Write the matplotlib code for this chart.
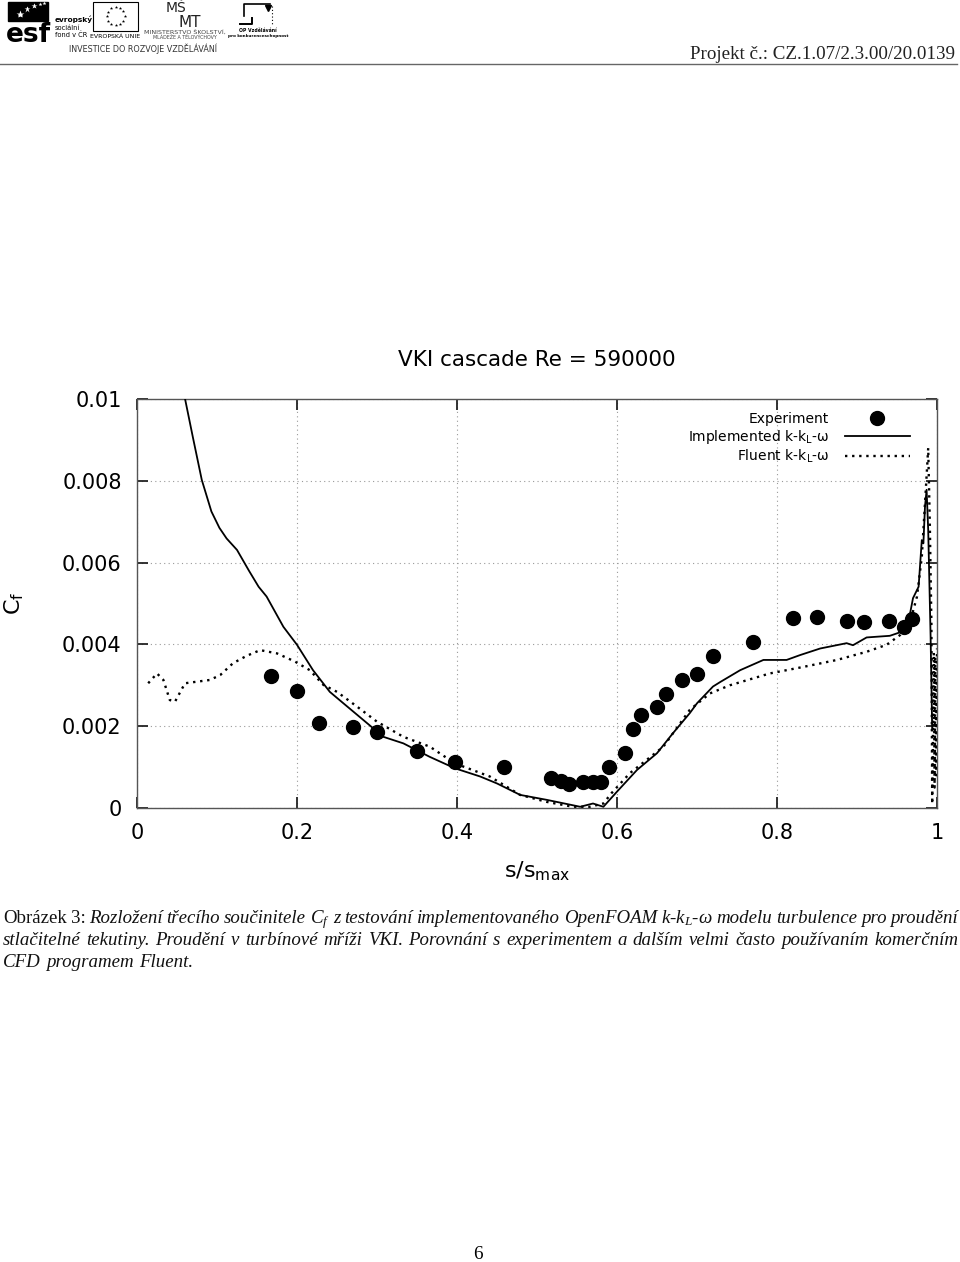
import matplotlib
matplotlib.use('Agg')
import matplotlib.pyplot as plt
import numpy as np
from matplotlib.patches import Rectangle

plt.rcParams['font.family'] = ['DejaVu Sans']
plt.rcParams['mathtext.fontset'] = 'custom'
plt.rcParams['mathtext.rm'] = 'Liberation Serif'
plt.rcParams['mathtext.it'] = 'Liberation Serif:italic'

# ---------------- data ----------------
exp_x = [0.168, 0.200, 0.2275, 0.270, 0.300, 0.350, 0.3975, 0.459, 0.518, 0.530,
         0.540, 0.557, 0.570, 0.580, 0.590, 0.610, 0.620, 0.630, 0.650, 0.661,
         0.681, 0.700, 0.720, 0.770, 0.820, 0.850, 0.8875, 0.909, 0.940, 0.959, 0.969]
exp_y = [0.00323, 0.00287, 0.00209, 0.00197, 0.00186, 0.00139, 0.00112, 0.00101, 0.00074, 0.00067,
         0.00059, 0.00064, 0.00063, 0.00064, 0.00101, 0.00134, 0.00194, 0.00227, 0.00247, 0.00279,
         0.00314, 0.00328, 0.00372, 0.00407, 0.00464, 0.00468, 0.00458, 0.00454, 0.00456, 0.00443, 0.00463]

impl_x = [0.058, 0.070, 0.081, 0.093, 0.103, 0.112, 0.125, 0.140, 0.152, 0.162,
          0.183, 0.200, 0.220, 0.241, 0.258, 0.283, 0.308, 0.333, 0.366, 0.3975,
          0.429, 0.450, 0.479, 0.512, 0.554, 0.570, 0.583, 0.600, 0.625, 0.650,
          0.670, 0.691, 0.700, 0.720, 0.729, 0.754, 0.783, 0.812, 0.829, 0.854,
          0.887, 0.895, 0.912, 0.941, 0.956, 0.964, 0.970, 0.977, 0.981, 0.983,
          0.985, 0.987, 0.989, 0.992, 0.994]
impl_y = [0.01020, 0.00905, 0.00802, 0.00725, 0.00685, 0.00659, 0.00631, 0.00580, 0.00541, 0.00517,
          0.00443, 0.00399, 0.00337, 0.00284, 0.00256, 0.00215, 0.00174, 0.00158, 0.00125, 0.00097,
          0.00077, 0.00060, 0.00032, 0.00020, 0.00003, 0.00011, 0.00003, 0.00040, 0.00093, 0.00134,
          0.00183, 0.00232, 0.00256, 0.00297, 0.00308, 0.00337, 0.00362, 0.00362, 0.00374, 0.00390,
          0.00403, 0.00398, 0.00417, 0.00421, 0.00431, 0.00452, 0.00513, 0.00541, 0.00655, 0.00647,
          0.00737, 0.00778, 0.00680, 0.00419, 0.00190]

fluent_x = [0.014, 0.025, 0.033, 0.041, 0.0475, 0.060, 0.091, 0.104, 0.120, 0.137,
            0.154, 0.175, 0.1975, 0.216, 0.233, 0.250, 0.275, 0.300, 0.333, 0.366,
            0.3975, 0.441, 0.479, 0.512, 0.545, 0.566, 0.583, 0.593, 0.616, 0.658,
            0.691, 0.716, 0.741, 0.791, 0.833, 0.875, 0.912, 0.937, 0.954, 0.966,
            0.975, 0.981, 0.986, 0.989, 0.991, 0.993, 0.994, 0.996, 0.997, 0.998,
            0.999, 1.000]
fluent_y = [0.00305, 0.00329, 0.00313, 0.00264, 0.00260, 0.00305, 0.00313, 0.00325, 0.00354, 0.00372,
            0.00386, 0.00378, 0.00358, 0.00337, 0.00301, 0.00284, 0.00248, 0.00211, 0.00174, 0.00150,
            0.00109, 0.00077, 0.00032, 0.00015, 0.00003, 0.00003, 0.00011, 0.00036, 0.00085, 0.00150,
            0.00240, 0.00280, 0.00300, 0.00329, 0.00345, 0.00362, 0.00382, 0.00399, 0.00423, 0.00452,
            0.00517, 0.00614, 0.00778, 0.00880, 0.00697, 0.00452, 0.00010, 0.00380, 0.00050, 0.00370,
            0.00080, 0.00390]

x_ticks = [0, 0.2, 0.4, 0.6, 0.8, 1.0]
x_tick_labels = ['0', '0.2', '0.4', '0.6', '0.8', '1']
y_ticks = [0, 0.002, 0.004, 0.006, 0.008, 0.010]
y_tick_labels = ['0', '0.002', '0.004', '0.006', '0.008', '0.01']

title = 'VKI cascade Re = 590000'
legend_labels = ['Experiment', r'Implemented k-k$_\mathregular{L}$-ω', r'Fluent k-k$_\mathregular{L}$-ω']

# ---------------- figure ----------------
W, H = 960, 1262
fig = plt.figure(figsize=(W / 100, H / 100), dpi=100)
page = fig.add_axes([0, 0, 1, 1], zorder=0)
page.set_xlim(0, W)
page.set_ylim(H, 0)
page.axis('off')

ax = fig.add_axes([137 / W, 1 - 808 / H, 800 / W, 409 / H], zorder=1)
ax.patch.set_alpha(0)

l_exp, = ax.plot(exp_x, exp_y, 'o', color='black', ms=10, label=legend_labels[0], zorder=4)
l_imp, = ax.plot(impl_x, impl_y, color='black', lw=1.3, label=legend_labels[1], zorder=3)
l_flu, = ax.plot(fluent_x, fluent_y, color='black', lw=1.7, linestyle=(0, (1, 2.0)),
                 label=legend_labels[2], zorder=3)

ax.set_xlim(0, 1)
ax.set_ylim(0, 0.01)
ax.set_xticks(x_ticks)
ax.set_xticklabels(x_tick_labels)
ax.set_yticks(y_ticks)
ax.set_yticklabels(y_tick_labels)
ax.tick_params(direction='in', length=8, width=1.3, top=True, right=True,
               labelsize=15, pad=11, color='#222222')
ax.grid(True, color='#9a9a9a', linestyle=(0, (1, 3)), lw=0.8)
for s in ax.spines.values():
    s.set_color('#555555')
    s.set_linewidth(1.0)

ax.set_title(title, fontsize=15.5, pad=24)
ax.set_ylabel(r'C$_\mathregular{f}$', fontsize=16)
ax.yaxis.set_label_coords(-0.14, 0.50)
ax.set_xlabel(r's/s$_\mathregular{max}$', fontsize=16)
ax.xaxis.set_label_coords(0.5, -0.125)

ax.legend(handles=[l_exp, l_imp, l_flu], markerfirst=False, frameon=False,
          loc='upper right', bbox_to_anchor=(0.966, 0.968), borderaxespad=0,
          borderpad=0, fontsize=10, handlelength=4.7, handletextpad=1.1,
          labelspacing=0.12, numpoints=1)

# ---------------- page header ----------------
# esf logo
page.add_patch(Rectangle((8, 2), 40, 19, color='black'))
for (sx, sy, ss) in [(20, 14, 6), (27, 9, 5), (34, 6, 4), (40, 4, 3), (44, 3, 3)]:
    page.plot(sx, sy, marker='*', color='white', ms=ss, mec='none')
page.text(6, 42, 'esf', fontsize=19, fontweight='bold', family='DejaVu Sans',
          va='baseline', ha='left')
page.text(55, 22, 'evropský', fontsize=5.3, fontweight='bold', va='baseline')
page.text(55, 30, 'sociální', fontsize=4.8, va='baseline')
page.text(55, 37, 'fond v ČR', fontsize=4.8, va='baseline')
# EU flag
page.add_patch(Rectangle((93, 2), 45, 29, fill=False, ec='black', lw=0.8))
for k in range(12):
    a = 2 * np.pi * k / 12
    page.plot(115.5 + 9 * np.cos(a), 16 + 9 * np.sin(a), marker='*', color='black', ms=2.5, mec='none')
page.text(115.5, 38, 'EVROPSKÁ UNIE', fontsize=4.5, ha='center', va='baseline')
# MSMT
page.text(176, 12, 'MŠ', fontsize=10, ha='center', va='baseline', color='#222', family='DejaVu Sans')
page.text(190, 27, 'MT', fontsize=11, ha='center', va='baseline', color='#222', family='DejaVu Sans')
page.text(185, 34, 'MINISTERSTVO ŠKOLSTVÍ,', fontsize=4.6, ha='center', va='baseline', color='#444')
page.text(185, 39, 'MLÁDEŽE A TĚLOVÝCHOVY', fontsize=3.4, ha='center', va='baseline', color='#444')
# OP logo
page.plot([244, 244, 270], [16, 4, 4], color='black', lw=1.2)
page.plot([272, 272], [6, 24], color='black', lw=0.8, linestyle=(0, (1, 2)))
page.plot([240, 252, 252], [24, 24, 18], color='black', lw=1.4)
page.plot(268, 8, marker='v', color='black', ms=4)
page.text(258, 32, 'OP Vzdělávání', fontsize=3.3, ha='center', va='baseline', fontweight='bold')
page.text(258, 37, 'pro konkurenceschopnost', fontsize=3.0, ha='center', va='baseline', fontweight='bold')
page.text(143, 52, 'INVESTICE DO ROZVOJE VZDĚLÁVÁNÍ', fontsize=5.8, ha='center', va='baseline', color='#333')

page.text(955, 59, 'Projekt č.: CZ.1.07/2.3.00/20.0139', fontsize=13.7, ha='right', va='baseline',
          family='Liberation Serif', color='#222')
page.plot([0, 957], [64, 64], color='#666666', lw=1.0)

# ---------------- caption ----------------
renderer = fig.canvas.get_renderer()
CAP_SIZE = 13.6


def draw_line(tokens, y, x0, x1, justify=True):
    items = []
    for s, st in tokens:
        t = page.text(0, y, s, fontsize=CAP_SIZE, family='Liberation Serif', style=st,
                      va='baseline', ha='left', color='#111')
        items.append((t, t.get_window_extent(renderer=renderer).width))
    total = sum(w for _, w in items)
    if justify and len(items) > 1:
        gap = (x1 - x0 - total) / (len(items) - 1)
    else:
        gap = 0.25 * CAP_SIZE * 100 / 72 * 1.1
    x = x0
    for t, w in items:
        t.set_x(x)
        x += w + gap


N, I = 'normal', 'italic'
line1 = [('Obrázek', N), ('3:', N), ('Rozložení', I), ('třecího', I), ('součinitele', I),
         (r'$C_f$', I), ('z', I), ('testování', I), ('implementovaného', I), ('OpenFOAM', I),
         (r'k-k$_L$-ω', I), ('modelu', I), ('turbulence', I), ('pro', I), ('proudění', I)]
line2 = [(w, I) for w in 'stlačitelné tekutiny. Proudění v turbínové mříži VKI. Porovnání s '
         'experimentem a dalším velmi často používaním komerčním'.split()]
line3 = [(w, I) for w in 'CFD programem Fluent.'.split()]
draw_line(line1, 923, 3, 958)
draw_line(line2, 945, 3, 958)
draw_line(line3, 967, 3, 958, justify=False)

page.text(478, 1259, '6', fontsize=13.7, family='Liberation Serif', ha='center', va='baseline')

fig.savefig('out.png', dpi=100)
